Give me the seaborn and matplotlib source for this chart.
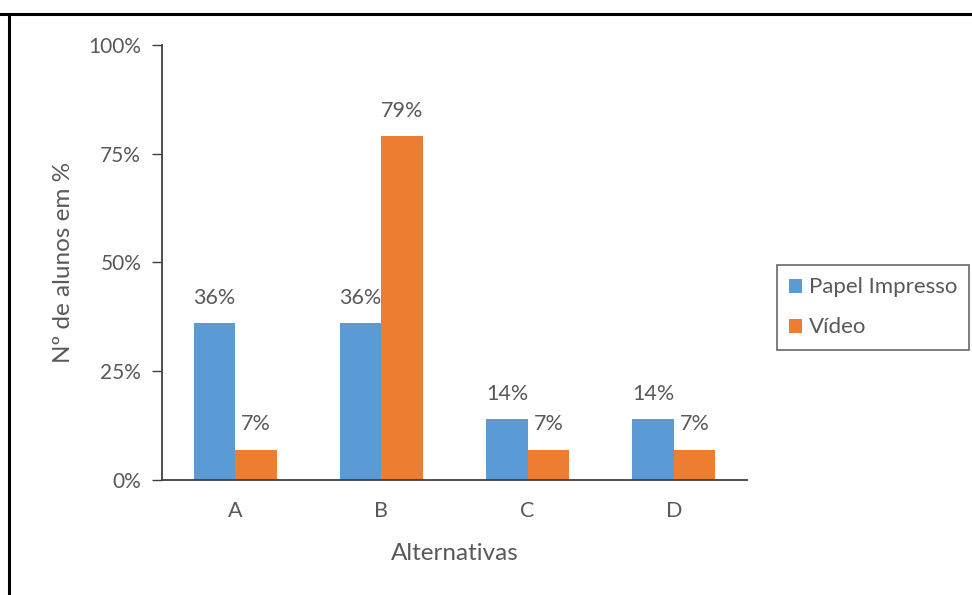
import matplotlib
matplotlib.use("Agg")
import matplotlib.pyplot as plt
from matplotlib.lines import Line2D
from matplotlib.ticker import FuncFormatter
import pandas as pd
import seaborn as sns

# Data
alternativas = ["A", "B", "C", "D"]
papel_impresso = [36, 36, 14, 14]
video = [7, 79, 7, 7]
series_names = ["Papel Impresso", "Vídeo"]
y_ticks = [0, 25, 50, 75, 100]

df = pd.DataFrame({
    "Alternativa": alternativas * 2,
    "Serie": [series_names[0]] * len(alternativas) + [series_names[1]] * len(alternativas),
    "Valor": papel_impresso + video,
})

sns.set_theme(style="white")
plt.rcParams["font.family"] = ["Lato", "DejaVu Sans"]

text_gray = "#595959"
axis_gray = "#404040"
colors = ["#5B9BD5", "#ED7D31"]

fig = plt.figure(figsize=(9.72, 5.95), dpi=100)
ax = fig.add_axes([0.1667, 0.1933, 0.6018, 0.7311])

sns.barplot(data=df, x="Alternativa", y="Valor", hue="Serie",
            palette=colors, width=0.566, gap=0, saturation=1,
            edgecolor="none", linewidth=0, ax=ax)

for container in ax.containers:
    ax.bar_label(container, fmt="%d%%", padding=11, fontsize=15.5, color=text_gray)

ax.set_ylim(0, 100)
ax.set_xlim(-0.5, 3.5)
ax.set_yticks(y_ticks)
ax.yaxis.set_major_formatter(FuncFormatter(lambda v, _: f"{v:.0f}%"))
ax.tick_params(axis="y", which="major", direction="out", length=7, width=1,
               color=axis_gray, labelsize=15, labelcolor=text_gray, pad=8, left=True)
ax.tick_params(axis="x", length=0, labelsize=15.5, labelcolor=text_gray, pad=15)

for side in ["top", "right"]:
    ax.spines[side].set_visible(False)
for side in ["left", "bottom"]:
    ax.spines[side].set_color(axis_gray)
    ax.spines[side].set_linewidth(1.3)

ax.set_xlabel("Alternativas", fontsize=17.5, color=text_gray, labelpad=16)
ax.set_ylabel("Nº de alunos em %", fontsize=17.5, color=text_gray, labelpad=10)

ax.legend_.remove()
handles, labels = ax.get_legend_handles_labels()
leg = fig.legend(handles, labels, loc="center left", bbox_to_anchor=(0.7994, 0.4832),
                 fontsize=16, frameon=True, fancybox=False, edgecolor="#404040",
                 handlelength=0.58, handleheight=0.58, handletextpad=0.3,
                 borderpad=0.55, labelspacing=0.9, borderaxespad=0)
leg.get_frame().set_linewidth(1.2)
for t in leg.get_texts():
    t.set_color(text_gray)

# Frame lines around the figure
fig.add_artist(Line2D([0, 1], [1 - 13.5 / 595, 1 - 13.5 / 595], transform=fig.transFigure,
                      color="black", linewidth=2.2))
fig.add_artist(Line2D([8.7 / 972, 8.7 / 972], [0, 1 - 13.5 / 595], transform=fig.transFigure,
                      color="black", linewidth=2.2))

fig.savefig("out.png", dpi=100, facecolor="white")
